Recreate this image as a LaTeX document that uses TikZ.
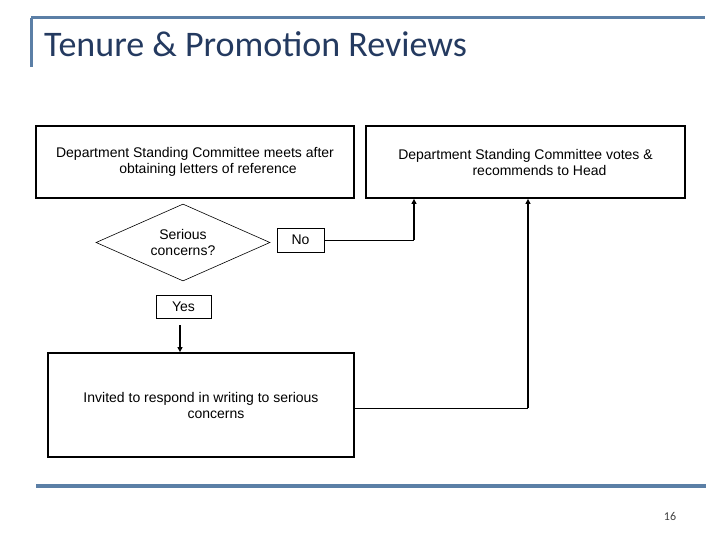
\documentclass[tikz,border=0pt]{standalone}
\usepackage{fontspec}
\setmainfont{Liberation Sans}
\newfontfamily\calib{Carlito}
\usetikzlibrary{arrows.meta,shapes.geometric}
\definecolor{rulecol}{RGB}{91,127,166}
\definecolor{titlecol}{RGB}{36,58,96}
\begin{document}
\begin{tikzpicture}[x=1pt,y=-1pt,
  txt/.style={font=\fontsize{14}{16}\selectfont, align=center, inner sep=0pt},
  bigbox/.style={draw, line width=1.8pt, txt},
  smallbox/.style={draw, line width=0.8pt, txt},
  dec/.style={draw, line width=0.6pt, shape=diamond, txt},
  thinline/.style={line width=1pt},
  arrowline/.style={line width=2pt, -{Triangle[length=5pt,width=5pt]}},
  rule/.style={draw=rulecol}
]
\useasboundingbox (0,0) rectangle (720,540);
% title rules
\draw[rule, line width=3pt] (31,18) coordinate (tr1) -- (705,18) coordinate (tr2);
\draw[rule, line width=3pt] (tr1) -- (31,67) coordinate (tr3);
\node[anchor=base west, inner sep=0pt, font=\calib\fontsize{36}{40}\selectfont, text=titlecol] (title) at (44,57) {Tenure \& Promotion Reviews};
% bottom rule
\draw[rule, line width=4pt] (36,486) coordinate (br1) -- (706,486) coordinate (br2);
\node[inner sep=0pt, font=\calib\fontsize{12}{14}\selectfont, text=black!75] (pg) at (670,516) {16};

% boxes
\node[bigbox, minimum width=318pt, minimum height=72pt] (A) at (195,162)
  {Department Standing Committee meets after\\\hspace*{26pt}obtaining letters of reference};
\node[bigbox, minimum width=319pt, minimum height=72pt] (B) at (525.5,162)
  {Department Standing Committee votes \&\\\hspace*{28pt}recommends to Head};
\node[bigbox, minimum width=306pt, minimum height=104pt] (C) at (201,405)
  {Invited to respond in writing to serious\\\hspace*{30pt}concerns};
\node[dec, minimum width=174pt, minimum height=77pt, aspect=2.26] (D) at (183,242.5)
  {Serious\\concerns?};
\node[smallbox, minimum width=47pt, minimum height=24pt] (no) at (300.5,240) {No};
\node[smallbox, minimum width=55pt, minimum height=23pt] (yes) at (183.5,306.5) {Yes};

% connectors
\coordinate (n1) at (414,240);
\draw[thinline] (no.east) -- (n1);
\draw[arrowline] ([yshift=0.5pt]n1) -- (n1 |- B.south);

\coordinate (y1) at (180,325);
\draw[arrowline] (y1) -- (y1 |- C.north);

\coordinate (c0) at (C.east |- 0,408);
\coordinate (c1) at (528,408);
\draw[thinline] (c0) -- (c1);
\draw[arrowline] ([yshift=0.5pt]c1) -- (c1 |- B.south);
\end{tikzpicture}
\end{document}
